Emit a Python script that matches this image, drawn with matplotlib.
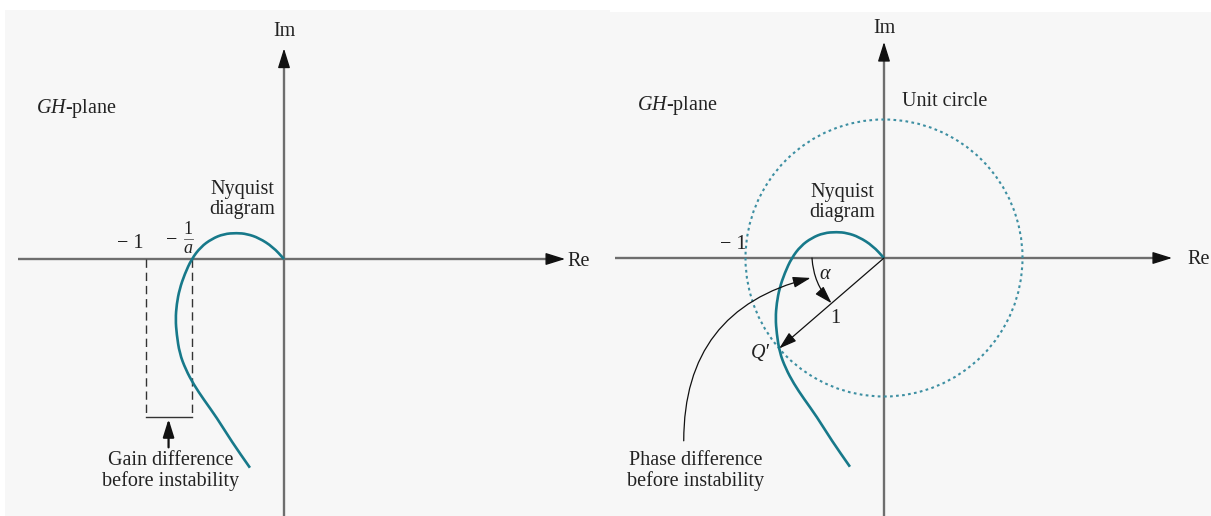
import numpy as np
import matplotlib.pyplot as plt
from matplotlib.patches import Circle, FancyArrowPatch, PathPatch
from matplotlib.path import Path

plt.rcParams['font.family'] = ['Liberation Serif', 'DejaVu Serif']
plt.rcParams['mathtext.fontset'] = 'custom'
plt.rcParams['mathtext.rm'] = 'Liberation Serif'
plt.rcParams['mathtext.it'] = 'Liberation Serif:italic'
plt.rcParams['font.size'] = 14.5

# Nyquist curve (GH-plane units)
nyq_re = [0.0, -0.080, -0.181, -0.268, -0.341, -0.435, -0.522, -0.601, -0.667,
          -0.717, -0.754, -0.775, -0.783, -0.775, -0.754, -0.710, -0.652,
          -0.580, -0.486, -0.377, -0.246]
nyq_im = [0.0, 0.087, 0.152, 0.181, 0.188, 0.181, 0.145, 0.087, 0.0,
          -0.109, -0.217, -0.326, -0.435, -0.543, -0.681, -0.797, -0.906,
          -1.014, -1.145, -1.319, -1.507]

critical = -1.0          # -1 point
gain_cross = -0.667      # -1/a, where curve crosses Re axis
unit_r = 1.0
q_angle = 220.8          # deg, point Q' where curve meets unit circle
alpha_r = 0.5

teal = '#17798a'
axis_gray = '#6e6e6e'
ink = '#222222'
bg = '#f7f7f7'

S = 138.5  # px per unit
W, H = 1211, 516
fig = plt.figure(figsize=(W / 100, H / 100), dpi=100)
fig.patch.set_facecolor('white')


def make_ax(x0, x1, ytop, ox, oy):
    ax = fig.add_axes([x0 / W, 0, (x1 - x0) / W, (H - ytop) / H])
    ax.set_xlim((x0 - ox) / S, (x1 - ox) / S)
    ax.set_ylim((oy - H) / S, (oy - ytop) / S)
    ax.axis('off')
    ax.add_patch(plt.Rectangle((0, 0), 1, 1, transform=ax.transAxes,
                               facecolor=bg, edgecolor='none', zorder=0))
    return ax


def smooth_curve(ax, xs, ys, **kw):
    # quadratic bezier through the midpoints, points act as control points
    pts = np.column_stack([xs, ys])
    verts = [pts[0], (pts[0] + pts[1]) / 2]
    codes = [Path.MOVETO, Path.LINETO]
    for i in range(1, len(pts) - 1):
        verts += [pts[i], (pts[i] + pts[i + 1]) / 2]
        codes += [Path.CURVE3, Path.CURVE3]
    verts.append(pts[-1])
    codes.append(Path.LINETO)
    ax.add_patch(PathPatch(Path(verts, codes), fill=False, **kw))


def draw_axes(ax, re_start, re_tip, im_tip, im_bottom, re_lbl, im_lbl):
    ax.plot([re_start, re_tip - 0.05], [0, 0], color=axis_gray, lw=1.7, zorder=2,
            solid_capstyle='butt')
    ax.plot([0, 0], [im_bottom, im_tip - 0.05], color=axis_gray, lw=1.7, zorder=2,
            solid_capstyle='butt')
    hs = '-|>,head_length=0.8,head_width=0.25'
    ax.annotate('', xy=(re_tip, 0), xytext=(re_tip - 0.12, 0),
                arrowprops=dict(arrowstyle=hs, color='#111111', lw=1,
                                shrinkA=0, shrinkB=0, mutation_scale=15), zorder=3)
    ax.annotate('', xy=(0, im_tip), xytext=(0, im_tip - 0.12),
                arrowprops=dict(arrowstyle=hs, color='#111111', lw=1,
                                shrinkA=0, shrinkB=0, mutation_scale=15), zorder=3)
    ax.text(re_lbl[0], re_lbl[1], 'Re', ha='left', va='center', color=ink)
    ax.text(im_lbl[0], im_lbl[1], 'Im', ha='center', va='center', color=ink)


small_head = '-|>,head_length=0.9,head_width=0.28'

# ---------- left panel: gain margin ----------
axL = make_ax(5, 610, 10, 284, 259)
draw_axes(axL, -1.92, 2.03, 1.52, -2.0, (2.05, -0.02), (0.0, 1.64))
smooth_curve(axL, nyq_re, nyq_im, edgecolor=teal, lw=1.9, zorder=4)

box_bottom = -1.14
axL.plot([critical, critical], [0, box_bottom], color='#333333', lw=1.0,
         ls=(0, (6, 3.5)), zorder=3)
axL.plot([gain_cross, gain_cross], [0, box_bottom], color='#333333', lw=1.0,
         ls=(0, (6, 3.5)), zorder=3)
axL.plot([critical, gain_cross], [box_bottom, box_bottom], color='#333333', lw=1.0, zorder=3)
gx = (critical + gain_cross) / 2
axL.annotate('', xy=(gx, box_bottom - 0.015), xytext=(gx, -1.36),
             arrowprops=dict(arrowstyle=small_head, color='#111111', lw=1.6,
                             shrinkA=0, shrinkB=0, mutation_scale=12), zorder=3)

axL.text(-1.79, 1.09, r'$GH$-plane', ha='left', va='center', color=ink)
axL.text(-0.30, 0.43, 'Nyquist\ndiagram', ha='center', va='center', color=ink,
         linespacing=1.05)
axL.text(-1.11, 0.11, '\u2212 1', ha='center', va='center', color=ink)
# -1/a drawn as a stacked fraction
axL.text(-0.81, 0.13, '\u2212', ha='center', va='center', color=ink)
axL.text(-0.69, 0.215, '1', ha='center', va='center', color=ink, fontsize=13)
axL.text(-0.69, 0.075, 'a', ha='center', va='center', color=ink, fontsize=13,
         fontstyle='italic')
axL.plot([-0.725, -0.655], [0.145, 0.145], color='#555555', lw=0.6, zorder=3)
axL.text(-0.82, -1.53, 'Gain difference\nbefore instability', ha='center',
         va='center', color=ink, linespacing=1.05)

# ---------- right panel: phase margin ----------
axR = make_ax(610, 1211, 12, 884, 258)
draw_axes(axR, -1.94, 2.08, 1.56, -2.0, (2.19, -0.01), (0.0, 1.66))
smooth_curve(axR, nyq_re, nyq_im, edgecolor=teal, lw=1.9, zorder=4)
axR.add_patch(Circle((0, 0), unit_r, fill=False, color='#3d8fa2', lw=1.5,
                     ls=(0, (1.3, 1.6)), zorder=3))

qa = np.deg2rad(q_angle)
q = (unit_r * np.cos(qa), unit_r * np.sin(qa))
axR.annotate('', xy=q, xytext=(0, 0),
             arrowprops=dict(arrowstyle=small_head, color='#111111', lw=0.9,
                             shrinkA=0, shrinkB=0, mutation_scale=12), zorder=5)
a_end = (alpha_r * np.cos(qa), alpha_r * np.sin(qa))
axR.add_patch(FancyArrowPatch((-alpha_r - 0.02, 0), a_end,
                              connectionstyle='arc3,rad=0.18',
                              arrowstyle=small_head, color='#111111', lw=0.9,
                              mutation_scale=12, shrinkA=0, shrinkB=0, zorder=5))
axR.add_patch(FancyArrowPatch((-1.446, -1.32), (-0.53, -0.144),
                              connectionstyle='arc3,rad=-0.39',
                              arrowstyle=small_head, color='#111111', lw=0.9,
                              mutation_scale=12, shrinkA=0, shrinkB=0, zorder=5))

axR.text(-1.78, 1.10, r'$GH$-plane', ha='left', va='center', color=ink)
axR.text(0.44, 1.13, 'Unit circle', ha='center', va='center', color=ink)
axR.text(-0.30, 0.40, 'Nyquist\ndiagram', ha='center', va='center', color=ink,
         linespacing=1.05)
axR.text(-1.09, 0.10, '\u2212 1', ha='center', va='center', color=ink)
axR.text(-0.42, -0.12, r'$\alpha$', ha='center', va='center', color=ink)
axR.text(-0.35, -0.44, '1', ha='center', va='center', color=ink)
axR.text(-0.89, -0.69, 'Q\u2032', ha='center', va='center', color=ink,
         fontstyle='italic')
axR.text(-1.36, -1.54, 'Phase difference\nbefore instability', ha='center',
         va='center', color=ink, linespacing=1.05)

fig.savefig('out.png', dpi=100, facecolor='white')
